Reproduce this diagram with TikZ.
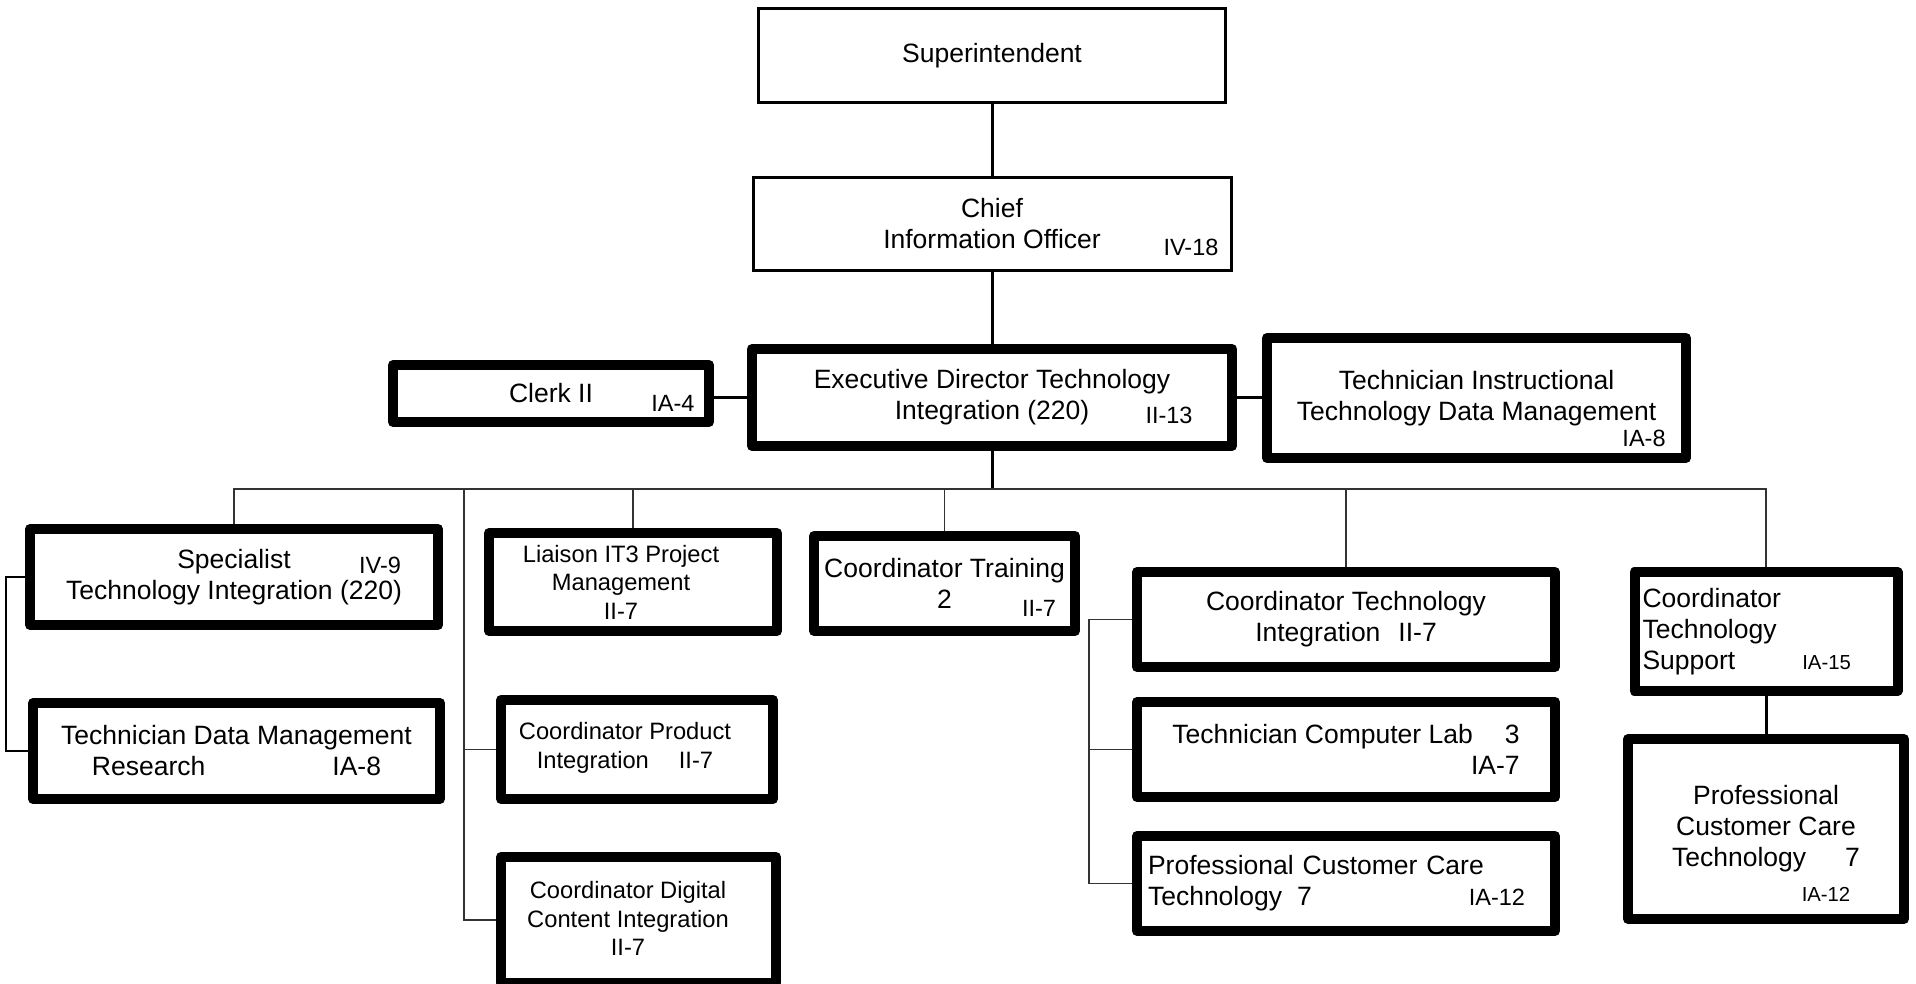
\documentclass[tikz,border=0pt]{standalone}
\usepackage{fontspec}
\setmainfont{Liberation Sans}
\usepackage{tikz}
\usetikzlibrary{positioning, calc}
\newcommand{\orgbig}{\fontsize{26.5}{31}\selectfont}
\newcommand{\orgmed}{\fontsize{23.7}{28.5}\selectfont}
\newcommand{\orggrade}{\fontsize{23.5}{28}\selectfont}
\newcommand{\orgsmall}{\fontsize{20.3}{24}\selectfont}

\begin{document}
\begin{tikzpicture}[x=1pt, y=-1pt,
  post/.style={draw, line width=10pt, line join=round, inner sep=0pt, align=center, font=\orgbig},
  toppost/.style={draw, line width=3pt, inner sep=0pt, align=center, font=\orgbig},
  txt/.style={inner sep=0pt, align=center, font=\orgmed},
  grade/.style={inner sep=0pt, font=\orggrade},
  link/.style={line width=3pt},
  bus/.style={line width=1.3pt, black!80}]
\useasboundingbox[fill=white] (0,0) rectangle (1916,983);

% top of the chart
\node[toppost, minimum width=467pt, minimum height=94pt] (super) at (992,55.5) {Superintendent};
\node[toppost, minimum width=478pt, minimum height=93pt] (cio) at (992,224) {Chief\\Information Officer};
\node[grade] (cioG) at (1191,247) {IV-18};
\node[post, minimum width=480pt, minimum height=97pt] (edti) at (992,397.5) {Executive Director Technology\\Integration (220)};
\node[grade] (edtiG) at (1169,415) {II-13};
\node[post, minimum width=316pt, minimum height=57pt] (clerk) at (551,393.5) {Clerk II};
\node[grade] (clerkG) at (673,403) {IA-4};
\node[post, minimum width=419pt, minimum height=120pt] (techinstr) at (1476.5,398) {Technician Instructional\\Technology Data Management};
\node[grade] (techinstrG) at (1644,438) {IA-8};

% left branch
\node[post, minimum width=408pt, minimum height=96pt] (spec) at (234,577) {Specialist\\Technology Integration (220)};
\node[grade] (specG) at (380,565) {IV-9};
\node[post, minimum width=407pt, minimum height=96pt] (tdmr) at (236.5,751) {Technician Data Management\\Research\hspace{127pt}IA-8};

% middle branches
\node[post, minimum width=288pt, minimum height=98pt] (liaison) at (633,582) {};
\node[txt] (liaisonT) at (621,582) {Liaison IT3 Project\\Management\\II-7};
\node[post, minimum width=272pt, minimum height=99pt] (cpi) at (637,749.5) {};
\node[txt] (cpiT) at (625,748) {Coordinator Product\\Integration\hspace{30pt}II-7};
\node[post, minimum width=275pt, minimum height=126pt] (cdci) at (638.5,920) {};
\node[txt] (cdciT) at (628,918.5) {Coordinator Digital\\Content Integration\\II-7};
\node[post, minimum width=261pt, minimum height=95pt] (train) at (944.5,583.5) {Coordinator Training\\2};
\node[grade] (trainG) at (1039,608) {II-7};

% integration group
\node[post, minimum width=418pt, minimum height=95pt] (cti) at (1346,619.5) {Coordinator Technology\\Integration\hspace{18pt}II-7};
\node[post, minimum width=418pt, minimum height=95pt, align=right] (tcl) at (1346,749.5) {Technician Computer Lab\hspace{32pt}3\\IA-7};
\node[post, minimum width=418pt, minimum height=95pt, align=left, text width=396pt] (pcct1) at (1346,883.5) {Professional Customer Care\\Technology\hspace{15pt}7\hspace{157pt}{\orggrade IA-12}};

% support group
\node[post, minimum width=263pt, minimum height=119pt, align=left, text width=247pt] (cts) at (1766,631.5) {Coordinator\\Technology\\Support\hspace{67pt}{\orgsmall IA-15}};
\node[post, minimum width=276pt, minimum height=180pt] (pcct2) at (1766,829) {Professional\\Customer Care\\Technology\hspace{39pt}7};
\node[grade, font=\orgsmall] (pcct2G) at (1826,894) {IA-12};

% connectors
\coordinate (hub) at (992,489);
\coordinate (lbus) at (464,489);
\coordinate (rbus) at (1089,619.5);
\coordinate (sbus) at (6,577);
\draw[link] (super) -- (cio);
\draw[link] (cio) -- (edti);
\draw[link] (edti.west) -- (edti.west -| clerk.east);
\draw[link] (edti.east) -- (edti.east -| techinstr.west);
\draw[link] (edti) -- (hub);
\draw[bus] (spec.north) |- (hub) -| (cts.north);
\foreach \n in {liaison, train, cti}
  \draw[bus] (\n.north) -- (\n.north |- hub);
\draw[bus] (lbus) |- (cdci.west);
\draw[bus] (cpi.west) -- (cpi.west -| lbus);
\draw[bus] (cti.west) -- (rbus) |- (pcct1.west);
\draw[bus] (tcl.west) -- (tcl.west -| rbus);
\draw[line width=2pt] (spec.west) -- (sbus) |- (tdmr.west);
\draw[link] (cts) -- (pcct2);
\end{tikzpicture}
\end{document}
